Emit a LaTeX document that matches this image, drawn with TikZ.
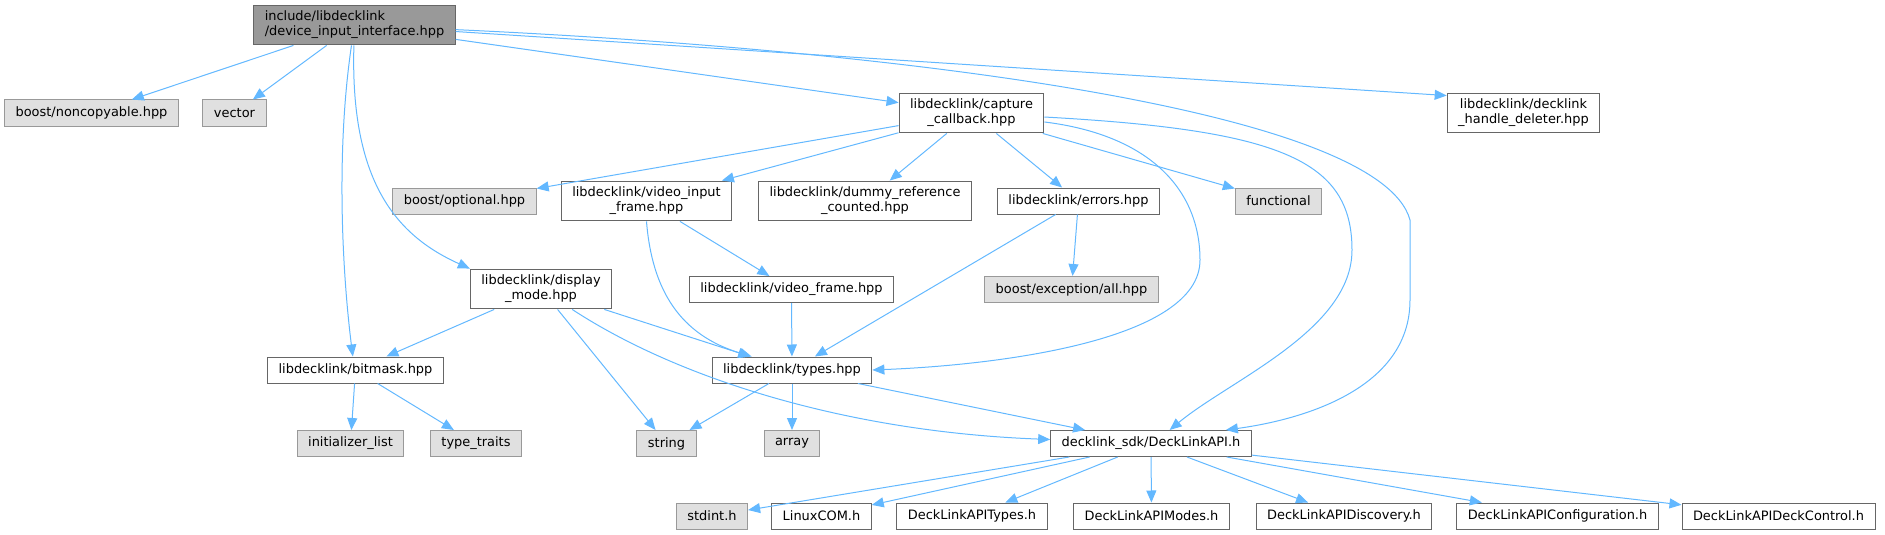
\documentclass[tikz,border=0pt]{standalone}
\usepackage{fontspec}
\setmainfont{DejaVu Sans}
\usetikzlibrary{arrows.meta}

\definecolor{flecha}{HTML}{63B8FF}
\definecolor{bordeoscuro}{HTML}{666666}
\definecolor{bordeclaro}{HTML}{999999}
\definecolor{fondoclaro}{HTML}{E0E0E0}
\definecolor{fondoraiz}{HTML}{999999}

\tikzset{
	archivo/.style={draw=bordeoscuro, fill=white, line width=0.75pt,
		inner xsep=8.25pt, inner ysep=4.5pt, minimum height=19.5pt,
		align=center, font=\fontsize{9.7}{11.25}\selectfont},
	externo/.style={archivo, draw=bordeclaro, fill=fondoclaro},
	raiz/.style={archivo, fill=fondoraiz, align=left},
	dep/.style={draw=flecha, line width=0.75pt, -{Triangle[length=9pt,width=7.5pt]}}
}

\begin{document}
\begin{tikzpicture}[x=0.75pt, y=-0.75pt]

	\useasboundingbox (0,0) rectangle (1885,535);

% Nivel 0 y 1
	\node[raiz] (main) at (354.5,25) {include/libdecklink\\/device\_input\_interface.hpp};
	\node[externo] (noncop) at (91.5,113) {boost/noncopyable.hpp};
	\node[externo] (vector) at (234.5,113) {vector};
	\node[archivo] (capture) at (971.5,113) {libdecklink/capture\\\_callback.hpp};
	\node[archivo] (deleter) at (1523.5,113) {libdecklink/decklink\\\_handle\_deleter.hpp};

% Nivel 2
	\node[externo] (optional) at (464.5,201) {boost/optional.hpp};
	\node[archivo] (vinframe) at (646.5,201) {libdecklink/video\_input\\\_frame.hpp};
	\node[archivo] (dummy) at (865,201) {libdecklink/dummy\_reference\\\_counted.hpp};
	\node[archivo] (errors) at (1078.5,201) {libdecklink/errors.hpp};
	\node[externo] (functional) at (1278.5,201) {functional};

% Nivel 3
	\node[archivo] (display) at (541,289) {libdecklink/display\\\_mode.hpp};
	\node[archivo] (vframe) at (791.5,289.5) {libdecklink/video\_frame.hpp};
	\node[externo] (exception) at (1071.5,289.5) {boost/exception/all.hpp};

% Nivel 4
	\node[archivo] (bitmask) at (355.5,370) {libdecklink/bitmask.hpp};
	\node[archivo] (types) at (792,370) {libdecklink/types.hpp};

% Nivel 5
	\node[externo] (initlist) at (350.5,443.5) {initializer\_list};
	\node[externo] (traits) at (476,443.5) {type\_traits};
	\node[externo] (string) at (666.5,443.5) {string};
	\node[externo] (array) at (792,443.5) {array};
	\node[archivo] (api) at (1151,443.5) {decklink\_sdk/DeckLinkAPI.h};

% Nivel 6
	\node[externo] (stdint) at (712,516) {stdint.h};
	\node[archivo] (linuxcom) at (821.5,516) {LinuxCOM.h};
	\node[archivo] (apitypes) at (972,516) {DeckLinkAPITypes.h};
	\node[archivo] (apimodes) at (1151.5,516) {DeckLinkAPIModes.h};
	\node[archivo] (apidisc) at (1344,516) {DeckLinkAPIDiscovery.h};
	\node[archivo] (apiconf) at (1557.5,516) {DeckLinkAPIConfiguration.h};
	\node[archivo] (apideck) at (1778.5,516) {DeckLinkAPIDeckControl.h};

% Dependencias rectas
	\foreach \a/\b in {main/noncop, main/vector, main/capture,
			capture/optional, capture/vinframe, capture/dummy, capture/errors, capture/functional,
			vinframe/vframe, errors/types, errors/exception, vframe/types,
			display/bitmask, display/string, display/types,
			bitmask/initlist, bitmask/traits,
			types/string, types/array, types/api,
			api/stdint, api/linuxcom, api/apitypes, api/apimodes, api/apidisc, api/apiconf, api/apideck}
		\draw[dep] (\a) -- (\b);

	\draw[dep] (main) -- ([yshift=-2.25pt]deleter.north west);

% Dependencias curvas
	\draw[dep] (main) .. controls (350,180) and (395,235) .. (display.north west);
	\draw[dep] (main) .. controls (336,150) and (342,270) .. ([xshift=-2pt]bitmask.north);
	\draw[dep] (vinframe.south) .. controls (652,290) and (680,335) .. ([xshift=30pt]types.north west);
	\draw[dep] (display) .. controls (680,380) and (850,432) .. ([yshift=3pt]api.west);
	\draw[dep] (main) .. controls (900,50) and (1380,110) .. (1410,220)
		-- (1410,300) .. controls (1410,390) and (1300,420) .. ([xshift=-19.5pt]api.north east);
	\draw[dep] (capture) .. controls (1280,130) and (1352,160) .. (1352,250)
		.. controls (1352,330) and (1230,380) .. ([xshift=14pt]api.north);
	\draw[dep] (capture) .. controls (1150,135) and (1200,190) .. (1200,260)
		.. controls (1200,340) and (1000,365) .. (types.east);

\end{tikzpicture}
\end{document}
